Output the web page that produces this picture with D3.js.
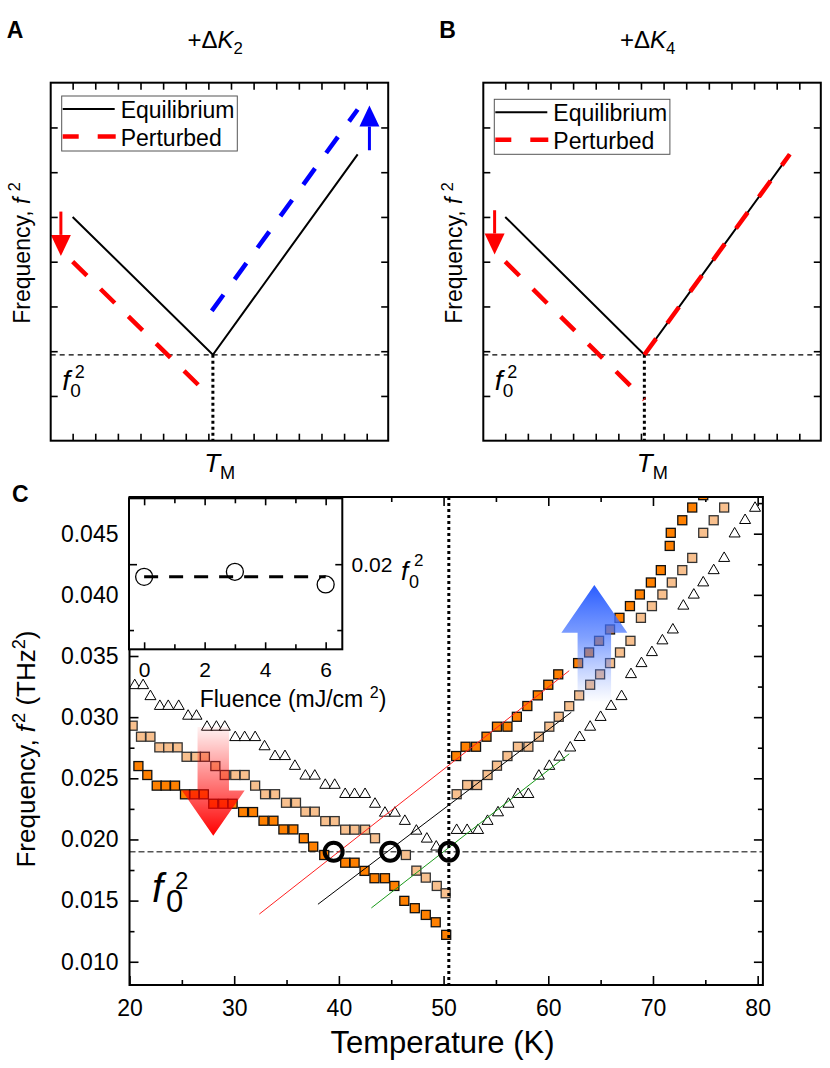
<!DOCTYPE html>
<html lang="en">
<head>
<meta charset="UTF-8">
<title>Soft mode f^2 vs temperature</title>
<script src="https://d3js.org/d3.v7.min.js"></script>
<style>
  body { margin: 0; background: #fff; }
  svg text { font-family: "Liberation Sans", Arial, sans-serif; fill: #000; }
  .frame { fill: none; stroke: #000; stroke-width: 2; }
  .ax path { display: none; }
  .ax line { stroke: #000; stroke-width: 1.6; }
</style>
</head>
<body>
<svg id="fig" width="830" height="1068"></svg>
<script>
// ---------- A / B : schematic (arbitrary units) ----------
var equilA    = [[0, 5], [6.2, 1.92], [12.6, 6.4]];
var pertLowA  = [[0, 4], [5.55, 1.25]];
var pertHighA = [[6.15, 2.9], [12.6, 7.4]];
var equilB    = [[0, 5], [6.15, 1.92], [12.58, 6.4]];
var pertLowB  = [[0, 4], [6.15, 0.92]];
var pertHighB = [[6.15, 1.92], [12.58, 6.4]];
var f0Schem = 1.92;
var arrowDownA = [-0.52, 5.12, 4.13];   // x, from, to
var arrowUpA   = [13.12, 6.49, 7.49];
var arrowDownB = [-0.47, 5.15, 4.16];
var schemXTicks = d3.range(0, 14);
var schemYTicks = d3.range(1, 8);

// ---------- C : f^2 (THz^2) vs temperature (K) ----------
var triData = [
  [20.5, 0.0327], [21.3, 0.0327], [22.0, 0.0318], [22.9, 0.0310], [23.7, 0.0310], [24.7, 0.0310],
  [25.6, 0.0302], [26.4, 0.0302], [27.4, 0.0293], [28.3, 0.0293], [29.1, 0.0293],
  [30.1, 0.02845], [31.0, 0.02845], [32.0, 0.02845], [32.9, 0.0277], [33.9, 0.0269], [34.85, 0.0269],
  [35.8, 0.0261], [36.8, 0.0253], [37.7, 0.0253], [38.7, 0.02455], [39.6, 0.02455],
  [40.6, 0.0238], [41.5, 0.0238], [42.5, 0.0238], [43.45, 0.0230], [44.4, 0.02227], [45.35, 0.02227],
  [46.3, 0.0216], [47.4, 0.0208], [48.4, 0.02015], [49.3, 0.0195],
  [51.25, 0.02086], [52.25, 0.02086], [53.3, 0.02086], [54.2, 0.0216], [55.2, 0.0223], [56.2, 0.0230],
  [57.1, 0.0238], [58.1, 0.0238], [59.1, 0.0253], [60.1, 0.0261], [61.05, 0.02685], [62.1, 0.0276],
  [63.0, 0.02846], [64.0, 0.0293], [65.0, 0.0301], [66.0, 0.0310], [67.0, 0.0318], [67.9, 0.0336],
  [68.9, 0.0345], [69.9, 0.0354], [70.9, 0.03636], [71.9, 0.03725], [72.9, 0.0392], [73.9, 0.0401],
  [74.8, 0.0411], [75.8, 0.0421], [76.8, 0.0431], [77.8, 0.0451], [78.8, 0.0462], [79.75, 0.0472]
];
var lightData = [
  [20.3, 0.0293], [21.1, 0.0284], [22.0, 0.0284], [22.85, 0.02753], [23.7, 0.02753], [24.6, 0.02753],
  [25.45, 0.02676], [26.35, 0.02676], [27.2, 0.02676], [28.2, 0.0260], [29.1, 0.02527], [30.1, 0.02527],
  [31.0, 0.02527], [32.0, 0.0244], [32.95, 0.0237], [33.9, 0.0237], [34.95, 0.0230], [35.9, 0.0230],
  [36.8, 0.02227], [37.7, 0.02227], [38.7, 0.0215], [39.6, 0.0215], [40.6, 0.0208], [41.5, 0.0208],
  [42.5, 0.0208], [43.45, 0.0201], [46.4, 0.01873], [47.4, 0.01745], [48.3, 0.01688], [49.35, 0.0162],
  [50.2, 0.0156],
  [51.25, 0.0237], [52.25, 0.02445], [53.2, 0.02445], [54.2, 0.02527], [55.1, 0.02603], [56.1, 0.02682],
  [57.1, 0.02758], [58.1, 0.02758], [59.1, 0.0284], [60.1, 0.02922], [61.0, 0.03003], [62.0, 0.0309],
  [62.95, 0.03178], [64.0, 0.03265], [64.95, 0.0335], [65.9, 0.03442], [66.85, 0.03529], [67.85, 0.03624],
  [68.85, 0.03812], [69.9, 0.03908], [70.9, 0.04003], [71.8, 0.04101], [72.8, 0.04202], [73.75, 0.04302],
  [74.8, 0.04507], [75.8, 0.0461], [76.8, 0.04714]
];
var darkData = [
  [20.85, 0.0260], [21.7, 0.02527], [22.6, 0.0244], [23.45, 0.0244], [24.35, 0.0244],
  [25.3, 0.02369], [26.2, 0.02369], [27.1, 0.02369], [28.0, 0.02292], [28.95, 0.02292], [29.85, 0.02292],
  [30.85, 0.02224], [31.8, 0.02224], [32.8, 0.02153], [33.75, 0.02153], [34.7, 0.02082], [35.65, 0.02082],
  [36.65, 0.0201], [37.55, 0.01941], [38.6, 0.01873], [40.6, 0.0181], [41.5, 0.0181], [42.45, 0.01743],
  [43.4, 0.01683], [44.4, 0.01683], [45.3, 0.0162], [46.25, 0.01498], [47.25, 0.01438], [48.3, 0.01383],
  [49.25, 0.01323], [50.25, 0.0122],
  [51.2, 0.02682], [52.1, 0.02758], [53.1, 0.02758], [54.1, 0.0284], [55.1, 0.02922], [56.1, 0.02922],
  [57.0, 0.03003], [58.0, 0.03091], [59.0, 0.03178], [60.0, 0.03265], [60.95, 0.0335], [62.85, 0.03442],
  [63.9, 0.03529], [64.85, 0.03624], [65.9, 0.03717], [66.8, 0.03812], [67.8, 0.03908], [68.75, 0.04003],
  [69.8, 0.04101], [70.75, 0.04202], [71.6, 0.044], [71.7, 0.04507], [72.8, 0.0461], [73.75, 0.04714],
  [74.8, 0.04815]
];
var fitRed   = [[32.4, 0.0139], [62.0, 0.0338]];
var fitBlack = [[38.0, 0.0147], [62.2, 0.0304]];
var fitGreen = [[43.1, 0.0144], [62.0, 0.0270]];
var crossTemps = [39.5, 44.9, 50.5];
var f0sq = 0.0190;
var tM = 50.5;
var tempTicks = [20, 30, 40, 50, 60, 70, 80];
var tempMinor = [25, 35, 45, 55, 65, 75];
var freqTicks = [0.010, 0.015, 0.020, 0.025, 0.030, 0.035, 0.040, 0.045];
var freqMinor = [0.0125, 0.0175, 0.0225, 0.0275, 0.0325, 0.0375, 0.0425, 0.0475];
var redArrowC  = [28.0, 0.0292, 0.0240, 0.0203, 1.5, 3.0];   // T, tail, neck, tip, half shaft, half head (K)
var blueArrowC = [64.4, 0.0313, 0.0369, 0.0408, 1.6, 3.15];

// inset: f0^2 vs fluence
var fluence = [0, 3, 6];
var f0Fluence = [0.01904, 0.01942, 0.01846];
var fluenceTicks = [0, 2, 4, 6];
var fluenceMinor = [1, 3, 5];

var svg = d3.select("#fig");
var defs = svg.append("defs");

// ---------- helpers ----------
function rich(g, x, y, size, parts, anchor, rot) {
  var t = g.append("text").attr("x", x).attr("y", y).attr("font-size", size)
    .attr("text-anchor", anchor || "start");
  if (rot) t.attr("transform", "rotate(" + rot + "," + x + "," + y + ")");
  var shift = 0;
  parts.forEach(function(p) {
    var target = p.sup ? -size * 0.4 : p.sub ? size * 0.25 : 0;
    var ts = t.append("tspan").text(p.t).attr("dy", target - shift);
    shift = target;
    if (p.sup || p.sub) ts.attr("font-size", size * 0.7);
    if (p.it) ts.attr("font-style", "italic");
    if (p.dx) ts.attr("dx", p.dx);
  });
  return t;
}

function vArrow(g, sx, sy, a, color) {
  var X = sx(a[0]), y0 = sy(a[1]), y1 = sy(a[2]);
  var dir = y1 > y0 ? 1 : -1, hh = 21, hw = 10;
  g.append("line").attr("x1", X).attr("x2", X).attr("y1", y0).attr("y2", y1 - dir * hh)
    .attr("stroke", color).attr("stroke-width", 3);
  g.append("path").attr("d", "M" + (X - hw) + "," + (y1 - dir * hh) + "L" + (X + hw) + "," + (y1 - dir * hh) + "L" + X + "," + y1 + "Z")
    .attr("fill", color);
}

// ---------- schematic panels ----------
function schematic(left, letter, sub, equil, low, high, highColor, arrows) {
  var g = svg.append("g");
  var x = d3.scaleLinear().domain([-0.97, 13.95]).range([left, left + 337.5]);
  var y = d3.scaleLinear().domain([0, 8]).range([440.7, 82.7]);
  var line = d3.line().x(function(d) { return x(d[0]); }).y(function(d) { return y(d[1]); });

  g.append("g").attr("class", "ax").attr("transform", "translate(0,440.7)")
    .call(d3.axisBottom(x).tickValues(schemXTicks).tickSize(-7).tickFormat(""));
  g.append("g").attr("class", "ax").attr("transform", "translate(0,82.7)")
    .call(d3.axisTop(x).tickValues(schemXTicks).tickSize(-7).tickFormat(""));
  g.append("g").attr("class", "ax").attr("transform", "translate(" + x.range()[0] + ",0)")
    .call(d3.axisLeft(y).tickValues(schemYTicks).tickSize(-7).tickFormat(""));
  g.append("g").attr("class", "ax").attr("transform", "translate(" + x.range()[1] + ",0)")
    .call(d3.axisRight(y).tickValues(schemYTicks).tickSize(-7).tickFormat(""));

  // f0^2 level and T_M
  g.append("line").attr("x1", x.range()[0]).attr("x2", x.range()[1])
    .attr("y1", y(f0Schem)).attr("y2", y(f0Schem))
    .attr("stroke", "#000").attr("stroke-width", 1.2).attr("stroke-dasharray", "5,4");
  g.append("line").attr("x1", x(equil[1][0])).attr("x2", x(equil[1][0]))
    .attr("y1", y(equil[1][1])).attr("y2", 440.7)
    .attr("stroke", "#000").attr("stroke-width", 3).attr("stroke-dasharray", "3,3");

  g.append("path").attr("d", line(equil)).attr("fill", "none").attr("stroke", "#000").attr("stroke-width", 2);
  g.append("path").attr("d", line(low)).attr("fill", "none").attr("stroke", "#ff0000")
    .attr("stroke-width", 4.5).attr("stroke-dasharray", "20,19");
  g.append("path").attr("d", line(high)).attr("fill", "none").attr("stroke", highColor)
    .attr("stroke-width", 4.5).attr("stroke-dasharray", "20,19");

  arrows.forEach(function(a) { vArrow(g, x, y, a[0], a[1]); });

  g.append("rect").attr("class", "frame").attr("x", x.range()[0]).attr("y", 82.7)
    .attr("width", 337.5).attr("height", 358);

  // legend
  var lx = left + 11, ly = 96 + (left > 300 ? 3.3 : 0);
  g.append("rect").attr("x", lx).attr("y", ly).attr("width", 175.6).attr("height", 55)
    .attr("fill", "#fff").attr("stroke", "#555").attr("stroke-width", 1);
  g.append("line").attr("x1", lx + 1).attr("x2", lx + 53).attr("y1", ly + 13).attr("y2", ly + 13)
    .attr("stroke", "#000").attr("stroke-width", 2);
  g.append("line").attr("x1", lx + 1).attr("x2", lx + 54).attr("y1", ly + 40.5).attr("y2", ly + 40.5)
    .attr("stroke", "#ff0000").attr("stroke-width", 4.5).attr("stroke-dasharray", "16,19,20");
  g.append("text").attr("x", lx + 59).attr("y", ly + 21.5).attr("font-size", 23).text("Equilibrium");
  g.append("text").attr("x", lx + 59).attr("y", ly + 49.5).attr("font-size", 23).text("Perturbed");

  // labels
  g.append("text").attr("x", left - 44).attr("y", 37.7).attr("font-size", 23)
    .attr("font-weight", "bold").text(letter);
  rich(g, x(6.3), 48, 24, [{t: "+Δ"}, {t: "K", it: true}, {t: sub, sub: true}], "middle");
  rich(g, left - 21, 253, 23, [{t: "Frequency, "}, {t: "f", it: true}, {t: " "}, {t: "2", sup: true}], "middle", -90);
  rich(g, x(6.3) - 11, 472, 26, [{t: "T", it: true}, {t: "M", sub: true}]);
  g.append("text").attr("x", left + 11.5).attr("y", 390).attr("font-size", 28).attr("font-style", "italic").text("f");
  g.append("text").attr("x", left + 19.5).attr("y", 397).attr("font-size", 19).text("0");
  g.append("text").attr("x", left + 24).attr("y", 378).attr("font-size", 18).text("2");
}

schematic(50.7, "A", "2", equilA, pertLowA, pertHighA, "#0000ff",
  [[arrowDownA, "#ff0000"], [arrowUpA, "#0000ff"]]);
schematic(483.3, "B", "4", equilB, pertLowB, pertHighB, "#ff0000",
  [[arrowDownB, "#ff0000"]]);

// ---------- panel C ----------
var gc = svg.append("g");
var x = d3.scaleLinear().domain([20, 80.5]).range([129.5, 762.9]);
var y = d3.scaleLinear().domain([0.0081, 0.048]).range([985, 497]);
var line = d3.line().x(function(d) { return x(d[0]); }).y(function(d) { return y(d[1]); });

var clip = defs.append("clipPath").attr("id", "clipC");
clip.append("rect").attr("x", 129.5).attr("y", 497).attr("width", 633.4).attr("height", 488);

function axesSet(g, xs, ys, xMaj, xMin, yMaj, yMin, big, small) {
  var x0 = xs.range()[0], x1 = xs.range()[1], y0 = ys.range()[0], y1 = ys.range()[1];
  g.append("g").attr("class", "ax").attr("transform", "translate(0," + y0 + ")")
    .call(d3.axisBottom(xs).tickValues(xMin).tickSize(-small).tickFormat(""));
  g.append("g").attr("class", "ax").attr("transform", "translate(0," + y1 + ")")
    .call(d3.axisTop(xs).tickValues(xMaj.concat(xMin)).tickSize(-big).tickFormat(""))
    .selectAll(".tick line").attr("y2", function(d) { return xMin.indexOf(d) >= 0 ? small : big; });
  g.append("g").attr("class", "ax").attr("transform", "translate(" + x0 + ",0)")
    .call(d3.axisLeft(ys).tickValues(yMin).tickSize(-small).tickFormat(""));
  g.append("g").attr("class", "ax").attr("transform", "translate(" + x1 + ",0)")
    .call(d3.axisRight(ys).tickValues(yMaj.concat(yMin)).tickSize(-big).tickFormat(""))
    .selectAll(".tick line").attr("x2", function(d) { return yMin.indexOf(d) >= 0 ? -small : -big; });
}

axesSet(gc, x, y, tempTicks, tempMinor, freqTicks, freqMinor, 9, 5);
gc.append("g").attr("class", "ax").attr("transform", "translate(0,985)")
  .call(d3.axisBottom(x).tickValues(tempTicks).tickSize(-9).tickPadding(15).tickFormat(d3.format("d")))
  .selectAll("text").attr("font-size", 23);
gc.append("g").attr("class", "ax").attr("transform", "translate(129.5,0)")
  .call(d3.axisLeft(y).tickValues(freqTicks).tickSize(-9).tickPadding(11).tickFormat(d3.format(".3f")))
  .selectAll("text").attr("font-size", 23);

var plot = gc.append("g").attr("clip-path", "url(#clipC)");

// f0^2 reference line
plot.append("line").attr("x1", x(20)).attr("x2", x(80.5)).attr("y1", y(f0sq)).attr("y2", y(f0sq))
  .attr("stroke", "#555").attr("stroke-width", 1.6).attr("stroke-dasharray", "6,3");

// markers
plot.selectAll(".tri").data(triData).enter().append("path").attr("class", "tri")
  .attr("d", function(d) {
    var cx = x(d[0]), cy = y(d[1]);
    return "M" + (cx - 5.5) + "," + (cy + 4.5) + "L" + (cx + 5.5) + "," + (cy + 4.5) + "L" + cx + "," + (cy - 5) + "Z";
  })
  .attr("fill", "#fff").attr("stroke", "#000").attr("stroke-width", 1);
plot.selectAll(".lt").data(lightData).enter().append("rect").attr("class", "lt")
  .attr("x", function(d) { return x(d[0]) - 4.5; }).attr("y", function(d) { return y(d[1]) - 4.5; })
  .attr("width", 9).attr("height", 9)
  .attr("fill", "#f8c08e").attr("stroke", "#333").attr("stroke-width", 1.3);
plot.selectAll(".dk").data(darkData).enter().append("rect").attr("class", "dk")
  .attr("x", function(d) { return x(d[0]) - 4.5; }).attr("y", function(d) { return y(d[1]) - 4.5; })
  .attr("width", 9).attr("height", 9)
  .attr("fill", "#ff8000").attr("stroke", "#111").attr("stroke-width", 1.3);

// linear fits
[[fitRed, "#ff2020"], [fitBlack, "#000"], [fitGreen, "#1a9a1a"]].forEach(function(f) {
  plot.append("path").attr("d", line(f[0])).attr("fill", "none").attr("stroke", f[1]).attr("stroke-width", 1);
});

// T_M dotted line
plot.append("line").attr("x1", x(tM)).attr("x2", x(tM)).attr("y1", 497).attr("y2", 985)
  .attr("stroke", "#000").attr("stroke-width", 3).attr("stroke-dasharray", "3,3");

// crossing circles
plot.selectAll(".cross").data(crossTemps).enter().append("circle")
  .attr("cx", function(d) { return x(d); }).attr("cy", y(f0sq)).attr("r", 9)
  .attr("fill", "none").attr("stroke", "#000").attr("stroke-width", 4);

// gradient arrows
var gr = defs.append("linearGradient").attr("id", "gRed").attr("x1", 0).attr("y1", 0).attr("x2", 0).attr("y2", 1);
gr.append("stop").attr("offset", 0).attr("stop-color", "#ff0000").attr("stop-opacity", 0.05);
gr.append("stop").attr("offset", 0.6).attr("stop-color", "#ff0000").attr("stop-opacity", 0.6);
gr.append("stop").attr("offset", 1).attr("stop-color", "#ff0000").attr("stop-opacity", 1);
var gb = defs.append("linearGradient").attr("id", "gBlue").attr("x1", 0).attr("y1", 0).attr("x2", 0).attr("y2", 1);
gb.append("stop").attr("offset", 0).attr("stop-color", "#2a5cff").attr("stop-opacity", 1);
gb.append("stop").attr("offset", 0.45).attr("stop-color", "#4a78ff").attr("stop-opacity", 0.7);
gb.append("stop").attr("offset", 1).attr("stop-color", "#6a90ff").attr("stop-opacity", 0.02);

function fatArrow(a, fill) {
  var t = a[0];
  var pts = [[t - a[4], a[1]], [t + a[4], a[1]], [t + a[4], a[2]], [t + a[5], a[2]],
             [t, a[3]], [t - a[5], a[2]], [t - a[4], a[2]]];
  plot.append("path").attr("d", "M" + pts.map(function(p) { return x(p[0]) + "," + y(p[1]); }).join("L") + "Z")
    .attr("fill", fill);
}
fatArrow(redArrowC, "url(#gRed)");
fatArrow(blueArrowC, "url(#gBlue)");

gc.append("rect").attr("class", "frame").attr("x", 129.5).attr("y", 497).attr("width", 633.4).attr("height", 488);

// f0^2 label in C
gc.append("text").attr("x", 152).attr("y", 902).attr("font-size", 40).attr("font-style", "italic").text("f");
gc.append("text").attr("x", 166).attr("y", 911.5).attr("font-size", 31).text("0");
gc.append("text").attr("x", 175).attr("y", 889).attr("font-size", 24).text("2");

// axis titles
rich(gc, 442.5, 1053, 31, [{t: "Temperature (K)"}], "middle");
rich(gc, 35, 749, 26, [{t: "Frequency, "}, {t: "f", it: true}, {t: "2", sup: true, dx: 2}, {t: " (THz"}, {t: "2", sup: true}, {t: ")"}], "middle", -90);
gc.append("text").attr("x", 12).attr("y", 502).attr("font-size", 23).attr("font-weight", "bold").text("C");

// ---------- inset ----------
var gi = svg.append("g");
var xi = d3.scaleLinear().domain([-0.5, 6.55]).range([129, 342.3]);
var yi = d3.scaleLinear().domain([0.01354, 0.025]).range([649.3, 498.3]);
gi.append("rect").attr("x", 129).attr("y", 498.3).attr("width", 213.3).attr("height", 151).attr("fill", "#fff");
axesSet(gi, xi, yi, fluenceTicks, fluenceMinor, [0.02], [0.015], 7, 5);
gi.append("g").attr("class", "ax").attr("transform", "translate(0,649.3)")
  .call(d3.axisBottom(xi).tickValues(fluenceTicks).tickSize(-7).tickPadding(13).tickFormat(d3.format("d")))
  .selectAll("text").attr("font-size", 21);
gi.append("g").attr("class", "ax").attr("transform", "translate(129,0)")
  .call(d3.axisLeft(yi).tickValues([0.02]).tickSize(-8).tickFormat(""));
gi.append("line").attr("x1", xi(fluence[0])).attr("x2", xi(fluence[2]))
  .attr("y1", yi(f0Fluence[0])).attr("y2", yi(f0Fluence[0]))
  .attr("stroke", "#000").attr("stroke-width", 3).attr("stroke-dasharray", "14,11");
gi.selectAll(".flu").data(fluence).enter().append("circle")
  .attr("cx", function(d) { return xi(d); }).attr("cy", function(d, i) { return yi(f0Fluence[i]); })
  .attr("r", 8.5).attr("fill", "none").attr("stroke", "#000").attr("stroke-width", 1.3);
gi.append("rect").attr("class", "frame").attr("x", 129).attr("y", 498.3).attr("width", 213.3).attr("height", 151);
gi.append("text").attr("x", 351.5).attr("y", 571.5).attr("font-size", 21).text("0.02");
gi.append("text").attr("x", 401).attr("y", 580).attr("font-size", 26).attr("font-style", "italic").text("f");
gi.append("text").attr("x", 409).attr("y", 588).attr("font-size", 18).text("0");
gi.append("text").attr("x", 414).attr("y", 566).attr("font-size", 17).text("2");
rich(gi, 293, 707, 23, [{t: "Fluence (mJ/cm "}, {t: "2", sup: true}, {t: ")"}], "middle");
</script>
</body>
</html>
